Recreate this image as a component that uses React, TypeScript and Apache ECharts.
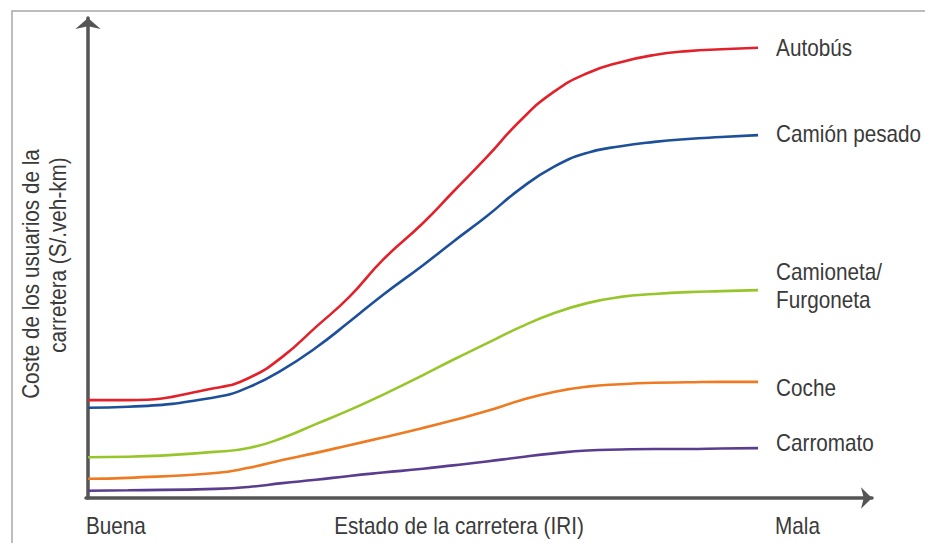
import React, { useEffect, useRef } from "react";
import * as echarts from "echarts";

const xValues = [0, 6, 19, 24, 29, 34, 39, 44, 50, 54.5, 59.5, 64.5, 69.5, 74.5, 79.5, 84.5, 89.5, 94.5, 100];
const autobus = [20.4, 20.4, 22.9, 25.0, 29.4, 35.6, 41.9, 49.6, 57.3, 63.8, 71.0, 78.6, 84.6, 88.5, 90.8, 92.3, 93.1, 93.5, 93.8];
const camionPesado = [18.8, 19.0, 21.0, 23.1, 26.7, 31.3, 36.7, 42.3, 48.5, 53.4, 58.7, 64.4, 69.0, 71.9, 73.3, 74.2, 74.8, 75.2, 75.6];
const camioneta = [8.5, 8.6, 9.6, 10.4, 12.5, 15.4, 18.3, 21.5, 25.6, 28.8, 32.2, 35.6, 38.5, 40.6, 41.9, 42.5, 42.9, 43.1, 43.3];
const coche = [4.0, 4.2, 5.2, 6.3, 7.9, 9.4, 11.0, 12.6, 14.6, 16.2, 18.1, 20.3, 22.1, 23.2, 23.7, 24.0, 24.1, 24.2, 24.2];
const carromato = [1.5, 1.6, 1.9, 2.3, 3.1, 3.8, 4.6, 5.3, 6.1, 6.8, 7.6, 8.5, 9.3, 9.9, 10.1, 10.2, 10.2, 10.3, 10.4];

const seriesNames = ["Autobús", "Camión pesado", "Camioneta/\nFurgoneta", "Coche", "Carromato"];
const seriesValues = [autobus, camionPesado, camioneta, coche, carromato];
const seriesColors = ["#e2222b", "#1d4f9a", "#97c62a", "#ee7a22", "#5a3d8f"];
const labelDy = [0, -1, -4, 6, -5];

const xAxisLabels = ["Buena", "Estado de la carretera (IRI)", "Mala"];
const yTitleLines = ["Coste de los usuarios de la", "carretera (S/.veh-km)"];

const FONT = '"Liberation Sans", Arial, sans-serif';
const FONT_SIZE = 23;
const SCALE_X = 0.9;
const TEXT_COLOR = "#3a3a3a";

function txt(text: string, x: number, y: number, align: string, extra: any = {}) {
  return {
    type: "text",
    x,
    y,
    scaleX: SCALE_X,
    silent: true,
    ...extra,
    style: {
      text,
      fill: TEXT_COLOR,
      font: `${FONT_SIZE}px ${FONT}`,
      lineHeight: 28,
      align,
      verticalAlign: "middle",
    },
  };
}

export default function App() {
  const ref = useRef<HTMLDivElement>(null);
  useEffect(() => {
    document.body.style.margin = "0";
    if (!ref.current) return;
    const chart = echarts.init(ref.current, null, { renderer: "svg" });
    const series = seriesNames.map((name, i) => ({
      name,
      type: "line",
      smooth: 0.5,
      showSymbol: false,
      symbol: "none",
      data: xValues.map((x, j) => [x, seriesValues[i][j]]),
      lineStyle: { color: seriesColors[i], width: 2.6 },
      itemStyle: { color: seriesColors[i] },
    }));
    chart.setOption({
      animation: false,
      backgroundColor: "#ffffff",
      grid: { left: 86, right: 53, top: 18, bottom: 45, containLabel: false },
      xAxis: {
        type: "value",
        min: -0.3,
        max: 117,
        axisLine: {
          show: true,
          symbol: ["none", "arrow"],
          symbolSize: [16, 11],
          lineStyle: { color: "#555555", width: 3.5 },
        },
        axisTick: { show: false },
        axisLabel: { show: false },
        splitLine: { show: false },
      },
      yAxis: {
        type: "value",
        min: 0,
        max: 100,
        axisLine: {
          show: true,
          symbol: ["none", "arrow"],
          symbolSize: [19, 11],
          lineStyle: { color: "#555555", width: 3.5 },
        },
        axisTick: { show: false },
        axisLabel: { show: false },
        splitLine: { show: false },
      },
      series,
    });

    const lastIdx = xValues.length - 1;
    const seriesLabels = seriesNames.map((name, i) => {
      const p = chart.convertToPixel({ seriesIndex: i }, [xValues[lastIdx], seriesValues[i][lastIdx]]) as number[];
      return txt(name, p[0] + 18, p[1] + labelDy[i], "left");
    });
    const origin = chart.convertToPixel({ seriesIndex: 0 }, [0, 0]) as number[];
    const end = chart.convertToPixel({ seriesIndex: 0 }, [100, 0]) as number[];
    const labelY = origin[1] + 28;

    chart.setOption({
      graphic: [
        {
          type: "polyline",
          shape: { points: [[12, 543], [12, 11], [925, 11]] },
          style: { stroke: "#a8a8a8", lineWidth: 1.5, fill: "none" },
          silent: true,
        },
        txt(xAxisLabels[0], origin[0] - 2, labelY, "left"),
        txt(xAxisLabels[1], 459, labelY, "center"),
        txt(xAxisLabels[2], end[0] + 17, labelY, "left"),
        txt(yTitleLines[0], 31, 274, "center", { rotation: Math.PI / 2 }),
        txt(yTitleLines[1], 58, 255, "center", { rotation: Math.PI / 2 }),
        ...seriesLabels,
      ],
    });
    return () => chart.dispose();
  }, []);
  return <div ref={ref} style={{ width: 925, height: 543 }} />;
}
